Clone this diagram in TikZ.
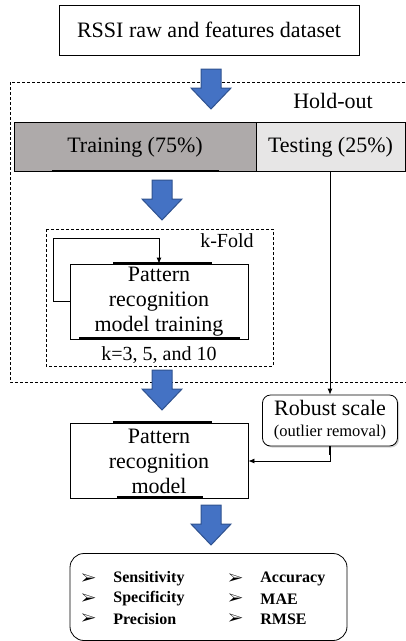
\documentclass[tikz,border=0pt]{standalone}
\usepackage{fontspec}
\setmainfont{Liberation Serif}
\usepackage{pifont}
\definecolor{ArrowBlue}{HTML}{4472C4}
\definecolor{ArrowEdge}{HTML}{2F528F}
\definecolor{TrainGray}{HTML}{AEAAAA}
\definecolor{TestGray}{HTML}{E7E6E6}
\usetikzlibrary{arrows.meta, positioning, calc, shadows}

\begin{document}
\begin{tikzpicture}[x=1pt, y=-1pt, >={Latex[length=6pt,width=5pt]}, line width=0.8pt,
    box/.style={draw, inner sep=0pt, align=center,
                font=\fontsize{22}{25}\selectfont},
    dashbox/.style={draw, dash pattern=on 3pt off 2pt},
    label/.style={inner sep=0pt, font=\fontsize{20}{22}\selectfont},
    bigarrow/.style={draw=ArrowEdge, fill=ArrowBlue, line width=1pt},
    edgebar/.style={line width=2.2pt},
    metric/.style={anchor=west, inner sep=0pt,
                   font=\fontsize{16}{18}\selectfont\bfseries}]
  \useasboundingbox (0,0) rectangle (405,641);

  % Dataset and hold-out split
  \node[box, minimum width=300, minimum height=50] (data) at (209,30)
    {RSSI raw and features dataset};
  \draw[dashbox] (10,82) rectangle (420,382);
  \node[label, font=\fontsize{22}{24}\selectfont] (holdout) at (333,101) {Hold-out};
  \node[box, fill=TrainGray, minimum width=242, minimum height=49] (training)
    at (135,147) {Training (75\%)};
  \node[box, fill=TestGray, minimum width=149, minimum height=49] (testing)
    at (330.5,147) {Testing (25\%)};
  \draw[edgebar] (52,171) -- (219,171);

  % k-Fold loop
  \draw[dashbox] (46,229) rectangle (273,366);
  \node[label] (kfold) at (227,241) {k-Fold};
  \node[box, fill=white, minimum width=178, minimum height=75] (train) at (159,301.5)
    {Pattern\\recognition\\model training};
  \draw[edgebar] (113,263) -- (212,263);
  \draw[edgebar] (79,338) -- (240,338);
  \node[label] (kvals) at (159,355) {k=3, 5, and 10};
  \coordinate (loop) at (53,238);
  \draw[->] (train.west) -| (loop) -| (train.north);

  % Testing branch
  \node[box, rounded corners=8pt, fill=white, minimum width=135, minimum height=51,
        drop shadow={opacity=0.35, shadow xshift=1.5pt, shadow yshift=-1.5pt}]
    (robust) at (330,420.5)
    {Robust scale\\[-4pt]{\fontsize{16.5}{18}\selectfont(outlier removal)}};
  \draw[->] (testing.south -| robust.north) -- (robust.north);

  % Final model
  \node[box, minimum width=178, minimum height=75] (model) at (159,461)
    {Pattern\\recognition\\model};
  \draw[edgebar] (113,422) -- (212,422);
  \draw[edgebar] (117,497) -- (203,497);
  \draw[->] (robust.south) |- (model.east);
  \draw[edgebar] (robust.south) -- ++(0,9);

  % Block arrows
  \foreach \ax/\ay in {211/69, 162/180, 162/370, 211/505}
    \draw[bigarrow] ({\ax-10},\ay) -- ({\ax+10},\ay) -- ({\ax+10},{\ay+19})
      -- ({\ax+20},{\ay+19}) -- (\ax,{\ay+40}) -- ({\ax-20},{\ay+19})
      -- ({\ax-10},{\ay+19}) -- cycle;

  % Metrics
  \node[draw, rounded corners=14pt, minimum width=277, minimum height=87] (metrics)
    at (208.5,597) {};
  \foreach \i/\left/\right in {1/Sensitivity/Accuracy, 2/Specificity/MAE, 3/Precision/RMSE} {
    \node[metric] (bl\i) at (81,{559+20*\i}) {\ding{226}};
    \node[metric] (ml\i) at (113,{559+20*\i}) {\left};
    \node[metric] (br\i) at (228,{559+20*\i}) {\ding{226}};
    \node[metric] (mr\i) at (260,{559+20*\i}) {\right};
  }
\end{tikzpicture}
\end{document}
